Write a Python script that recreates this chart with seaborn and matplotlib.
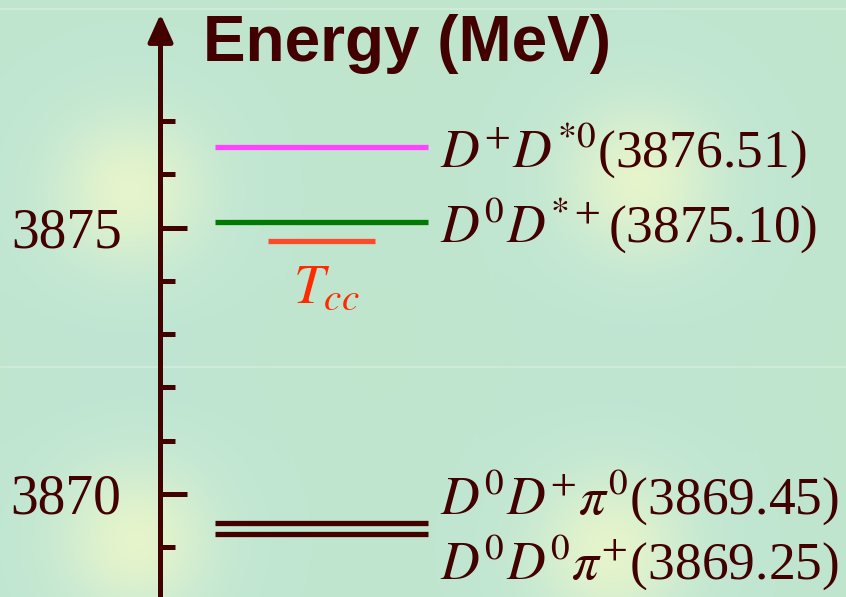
import numpy as np
import pandas as pd
import matplotlib
matplotlib.use("Agg")
import matplotlib.pyplot as plt
import seaborn as sns

# thresholds (MeV)
states = ["DpDs0", "D0Dsp", "D0Dppi0", "D0D0pip"]
masses = [3876.51, 3875.10, 3869.45, 3869.25]
state_labels = [r"$D^{+}D^{*0}$(3876.51)", r"$D^{0}D^{*+}$(3875.10)",
                r"$D^{0}D^{+}\pi^{0}$(3869.45)", r"$D^{0}D^{0}\pi^{+}$(3869.25)"]
state_colors = ["#ff44ff", "#007a00", "#420000", "#420000"]

tcc_mass = 3874.74
tcc_label = r"$T_{cc}$"

major_ticks = [3870, 3875]
minor_ticks = [3869, 3871, 3872, 3873, 3874, 3876, 3877]

title = "Energy (MeV)"

# layout (pixels / MeV offsets)
W, H = 846, 597
axis_x = 160.5
lvl_x = (215, 428)
tcc_x = (268, 375)
lab_x = 440
lab_dy = [-0.36, -0.36, 0.17, -0.85]
px_per_mev = 53.25
ylo = 3869 - 50 / px_per_mev
yhi = 3877 + 121 / px_per_mev
brown = "#420000"

sns.set_theme(style="white")
plt.rcParams["mathtext.fontset"] = "stix"
plt.rcParams["font.family"] = ["Liberation Serif", "DejaVu Serif"]

fig = plt.figure(figsize=(W / 100, H / 100), dpi=100)

# background with soft glows
yy, xx = np.mgrid[0:H, 0:W]
img = np.ones((H, W, 3)) * np.array([193, 230, 205]) / 255
for cx, cy in [(130, 190), (640, 180), (135, 540), (610, 550)]:
    r2 = (xx - cx) ** 2 + (yy - cy) ** 2
    halo = np.exp(-r2 / (2 * 110 ** 2))
    img += halo[..., None] * np.array([-4, -1, 10]) / 255
    core = 0.9 * np.exp(-r2 / (2 * 55 ** 2))[..., None]
    img = img * (1 - core) + core * np.array([234, 246, 202]) / 255
for ly in (9, 367):
    img[ly - 1:ly + 1] = img[ly - 1:ly + 1] * 0.5 + np.array([220, 240, 228]) / 255 * 0.5
bg = fig.add_axes([0, 0, 1, 1])
bg.imshow(np.clip(img, 0, 1), aspect="auto")
bg.axis("off")

ax = fig.add_axes([0, 0, 1, 1])
ax.patch.set_alpha(0)
ax.set_xlim(0, W)
ax.set_ylim(ylo, yhi)

# level lines
rows = []
for s, m in zip(states, masses):
    rows.append({"state": s, "x": lvl_x[0], "E": m})
    rows.append({"state": s, "x": lvl_x[1], "E": m})
levels = pd.DataFrame(rows)
sns.lineplot(data=levels, x="x", y="E", hue="state", palette=dict(zip(states, state_colors)),
             estimator=None, lw=3.8, legend=False, ax=ax, solid_capstyle="butt")

tcc = pd.DataFrame({"x": list(tcc_x), "E": [tcc_mass, tcc_mass]})
sns.lineplot(data=tcc, x="x", y="E", color="#ff4a2a", lw=3.8, ax=ax, solid_capstyle="butt")

for lab, m, dy in zip(state_labels, masses, lab_dy):
    ax.text(lab_x, m + dy, lab, fontsize=38.5, color=brown, ha="left", va="baseline")

ax.text(sum(tcc_x) / 2 + 5, tcc_mass - 1.15, tcc_label, fontsize=40, color="#ff2a00",
        ha="center", va="baseline")

# energy axis
for side in ["top", "right", "bottom", "left"]:
    ax.spines[side].set_visible(False)
ax.spines["left"].set_position(("data", axis_x))
ax.set_yticks(major_ticks)
ax.set_yticks(minor_ticks, minor=True)
ax.set_yticklabels([str(t) for t in major_ticks])
ax.tick_params(axis="y", which="major", direction="in", length=19, width=3.6, color=brown,
               labelsize=40, labelcolor=brown, pad=28, left=True)
ax.tick_params(axis="y", which="minor", direction="in", length=10, width=3.6, color=brown, left=True)
ax.set_xticks([])
ax.set_xlabel("")
ax.set_ylabel("")
ax.annotate("", xy=(axis_x, 1 - 14 / H), xytext=(axis_x, 0),
            xycoords=("data", "axes fraction"),
            arrowprops=dict(arrowstyle="-|>,head_length=0.4,head_width=0.18", lw=3.6,
                            color=brown, shrinkA=0, shrinkB=0, mutation_scale=42))

ax.text(203 / W, 1 - 61 / H, title, transform=ax.transAxes, fontsize=46, fontweight="bold",
        family=["Liberation Sans", "DejaVu Sans"], color=brown, ha="left", va="baseline")

fig.savefig("out.png", dpi=100)
